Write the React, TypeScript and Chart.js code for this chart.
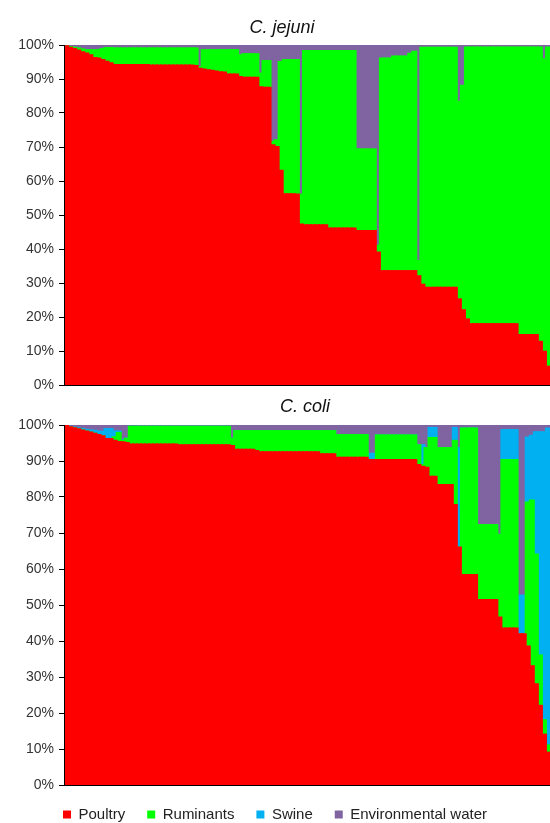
import React, { useEffect, useRef } from "react";
import { Chart, registerables } from "chart.js";

Chart.register(...registerables);

// ---------- C. jejuni (share of attribution per isolate, %) ----------
const jejuniPoultry = [
  99.6, 99.2, 98.8, 98.4, 97.9, 97.5, 97.0, 96.2, 96.0, 95.6,
  95.1, 94.6, 94.1, 94.1, 94.1, 94.1, 94.1, 94.1, 94.1, 94.1,
  94.1, 94.0, 94.0, 94.0, 94.0, 94.0, 94.0, 94.0, 94.0, 94.0,
  94.0, 94.0, 93.8, 93.0, 92.8, 92.6, 92.4, 92.2, 92.0, 91.9,
  91.3, 91.3, 91.3, 90.6, 90.4, 90.4, 90.4, 90.4, 87.6, 87.4,
  87.4, 70.5, 70.0, 63.0, 56.1, 56.1, 56.1, 56.0, 47.2, 47.0,
  47.0, 47.0, 47.0, 47.0, 47.0, 46.0, 46.0, 46.0, 46.0, 46.0,
  46.0, 46.0, 45.3, 45.3, 45.3, 45.3, 45.3, 39.0, 33.5, 33.5,
  33.5, 33.5, 33.5, 33.5, 33.5, 33.5, 33.5, 32.0, 29.5, 28.6,
  28.6, 28.6, 28.6, 28.6, 28.6, 28.6, 28.6, 25.2, 22.0, 19.3,
  17.9, 17.9, 17.9, 17.9, 17.9, 17.9, 17.9, 17.9, 17.9, 17.9,
  17.9, 17.9, 14.7, 14.7, 14.7, 14.7, 14.7, 12.7, 9.8, 5.4,
];
const jejuniRuminants = [
  0, 0.2, 0.4, 0.6, 0.8, 1.0, 1.5, 2.3, 2.5, 3.2,
  4.0, 4.5, 4.9, 4.9, 4.9, 4.9, 4.9, 4.9, 4.9, 4.9,
  4.9, 5.0, 5.0, 5.0, 5.0, 5.0, 5.0, 5.0, 5.0, 5.0,
  5.0, 5.0, 5.2, 0.5, 5.7, 5.9, 6.1, 6.3, 6.5, 6.6,
  7.2, 7.2, 7.2, 6.4, 6.9, 6.9, 6.9, 6.9, 4.0, 7.9,
  7.9, 1.0, 2.0, 32.0, 39.5, 39.5, 39.5, 39.6, 8.8, 51.2,
  51.2, 51.2, 51.2, 51.2, 51.2, 52.2, 52.2, 52.2, 52.2, 52.2,
  52.2, 52.2, 24.0, 24.0, 24.0, 24.0, 24.0, 2.0, 62.5, 62.5,
  62.5, 63.1, 63.1, 63.1, 63.1, 63.9, 64.5, 4.5, 69.7, 70.6,
  70.6, 70.6, 70.6, 70.6, 70.6, 70.6, 70.6, 58.1, 66.0, 80.0,
  81.4, 81.4, 81.4, 81.4, 81.4, 81.4, 81.4, 81.4, 81.4, 81.4,
  81.4, 81.4, 84.6, 84.6, 84.6, 84.6, 84.6, 86.6, 86.0, 93.9,
];
const jejuniWater = [
  0.4, 0.6, 0.8, 1.0, 1.3, 1.5, 1.5, 1.5, 1.5, 1.2,
  0.9, 0.9, 1.0, 1.0, 1.0, 1.0, 1.0, 1.0, 1.0, 1.0,
  1.0, 1.0, 1.0, 1.0, 1.0, 1.0, 1.0, 1.0, 1.0, 1.0,
  1.0, 1.0, 1.0, 6.5, 1.5, 1.5, 1.5, 1.5, 1.5, 1.5,
  1.5, 1.5, 1.5, 3.0, 2.7, 2.7, 2.7, 2.7, 8.4, 4.7,
  4.7, 28.5, 28.0, 5.0, 4.4, 4.4, 4.4, 4.4, 44.0, 1.8,
  1.8, 1.8, 1.8, 1.8, 1.8, 1.8, 1.8, 1.8, 1.8, 1.8,
  1.8, 1.8, 30.7, 30.7, 30.7, 30.7, 30.7, 59.0, 4.0, 4.0,
  4.0, 3.4, 3.4, 3.4, 3.4, 2.6, 2.0, 63.5, 0.8, 0.8,
  0.8, 0.8, 0.8, 0.8, 0.8, 0.8, 0.8, 16.7, 12.0, 0.7,
  0.7, 0.7, 0.7, 0.7, 0.7, 0.7, 0.7, 0.7, 0.7, 0.7,
  0.7, 0.7, 0.7, 0.7, 0.7, 0.7, 0.7, 0.7, 4.2, 0.7,
];

// ---------- C. coli ----------
const coliPoultry = [
  99.7, 99.4, 99.1, 98.8, 98.5, 98.2, 97.9, 97.6, 97.2, 96.9,
  96.1, 96.1, 95.6, 95.3, 95.2, 95.0, 94.6, 94.6, 94.6, 94.6,
  94.6, 94.6, 94.6, 94.6, 94.6, 94.6, 94.6, 94.6, 94.4, 94.4,
  94.4, 94.4, 94.4, 94.4, 94.4, 94.4, 94.4, 94.4, 94.4, 94.4,
  94.4, 94.2, 93.1, 93.1, 93.1, 93.1, 93.1, 92.8, 92.4, 92.4,
  92.4, 92.4, 92.4, 92.4, 92.4, 92.4, 92.4, 92.4, 92.4, 92.4,
  92.4, 92.4, 92.4, 91.9, 91.9, 91.9, 91.9, 90.9, 90.9, 90.9,
  90.9, 90.9, 90.9, 90.9, 90.9, 90.3, 90.3, 90.3, 90.3, 90.3,
  90.3, 90.3, 90.3, 90.3, 90.3, 90.3, 90.3, 88.9, 88.4, 88.1,
  85.6, 85.6, 83.3, 83.3, 83.3, 83.3, 77.8, 66.0, 58.3, 58.3,
  58.3, 58.3, 51.4, 51.4, 51.4, 51.4, 51.4, 46.5, 43.5, 43.5,
  43.5, 43.5, 41.9, 41.9, 38.5, 33.0, 28.0, 22.0, 14.0, 9.0,
];
const coliRuminants = [
  0, 0, 0, 0, 0, 0, 0, 0, 0, 0,
  0, 0, 1.0, 2.5, 0.4, 1.2, 4.9, 4.9, 4.9, 4.9,
  4.9, 4.9, 4.9, 4.9, 4.9, 4.9, 4.9, 4.9, 5.1, 5.1,
  5.1, 5.1, 5.1, 5.1, 5.1, 5.1, 5.1, 5.1, 5.1, 5.1,
  5.1, 2.0, 5.2, 5.2, 5.2, 5.2, 5.2, 5.5, 5.9, 5.9,
  5.9, 5.9, 5.9, 5.9, 5.9, 5.9, 5.9, 5.9, 5.9, 5.9,
  5.9, 5.9, 5.9, 6.4, 6.4, 6.4, 6.4, 6.3, 6.3, 6.3,
  6.3, 6.3, 6.3, 6.3, 6.3, 0, 0, 6.8, 6.8, 6.8,
  6.8, 6.8, 6.8, 6.8, 6.8, 6.8, 6.8, 5.5, 0.5, 5.5,
  10.8, 10.8, 10.3, 10.3, 10.3, 10.3, 17.8, 0, 40.7, 40.7,
  40.7, 40.7, 20.8, 20.8, 20.8, 20.8, 20.8, 23.0, 46.8, 46.8,
  46.8, 46.8, 0, 0, 40.0, 46.0, 36.0, 14.0, 4.0, 2.0,
];
const coliSwine = [
  0, 0.1, 0.2, 0.3, 0.4, 0.5, 0.6, 0.8, 1.0, 1.2,
  2.8, 2.8, 1.6, 0.4, 0.2, 0, 0, 0, 0, 0,
  0, 0, 0, 0, 0, 0, 0, 0, 0, 0,
  0, 0, 0, 0, 0, 0, 0, 0, 0, 0,
  0, 0, 0, 0, 0, 0, 0, 0, 0, 0,
  0, 0, 0, 0, 0, 0, 0, 0, 0, 0,
  0, 0, 0, 0, 0, 0, 0, 0, 0, 0,
  0, 0, 0, 0, 0, 1.7, 1.7, 0, 0, 0,
  0, 0, 0, 0, 0, 0, 0, 0, 5.5, 0,
  2.8, 2.8, 0, 0, 0, 0, 3.6, 27.6, 0, 0,
  0, 0, 0, 0, 0, 0, 0, 0, 8.3, 8.3,
  8.3, 8.3, 10.7, 10.7, 18.0, 18.0, 34.0, 62.0, 80.0, 88.0,
];
const coliWater = [
  0.3, 0.5, 0.7, 0.9, 1.1, 1.3, 1.5, 1.6, 1.8, 1.9,
  1.1, 1.1, 1.8, 1.8, 4.2, 3.8, 0.5, 0.5, 0.5, 0.5,
  0.5, 0.5, 0.5, 0.5, 0.5, 0.5, 0.5, 0.5, 0.5, 0.5,
  0.5, 0.5, 0.5, 0.5, 0.5, 0.5, 0.5, 0.5, 0.5, 0.5,
  0.5, 3.8, 1.7, 1.7, 1.7, 1.7, 1.7, 1.7, 1.7, 1.7,
  1.7, 1.7, 1.7, 1.7, 1.7, 1.7, 1.7, 1.7, 1.7, 1.7,
  1.7, 1.7, 1.7, 1.7, 1.7, 1.7, 1.7, 2.8, 2.8, 2.8,
  2.8, 2.8, 2.8, 2.8, 2.8, 8.0, 8.0, 2.9, 2.9, 2.9,
  2.9, 2.9, 2.9, 2.9, 2.9, 2.9, 2.9, 5.6, 5.6, 6.4,
  0.8, 0.8, 6.4, 6.4, 6.4, 6.4, 0.8, 6.4, 1.0, 1.0,
  1.0, 1.0, 27.8, 27.8, 27.8, 27.8, 27.8, 30.5, 1.4, 1.4,
  1.4, 1.4, 47.4, 47.4, 3.5, 3.0, 2.0, 2.0, 2.0, 1.0,
];

const sourceNames = ["Poultry", "Ruminants", "Swine", "Environmental water"];
const sourceColors = ["#FF0000", "#00FF00", "#00B0F0", "#8064A2"];
const yTicks = [0, 10, 20, 30, 40, 50, 60, 70, 80, 90, 100];

const FONT = '"Liberation Sans", Arial, Helvetica, sans-serif';

const panelTitle = {
  id: "panelTitle",
  afterDraw(chart: any, _args: any, opts: any) {
    const { ctx } = chart;
    ctx.save();
    ctx.font = `italic 18px ${FONT}`;
    ctx.fillStyle = "#111";
    ctx.textAlign = "center";
    ctx.textBaseline = "alphabetic";
    ctx.fillText(opts.text, opts.x, opts.y);
    ctx.restore();
  },
};

function ds(label: string, data: number[], color: string) {
  return {
    label,
    data,
    backgroundColor: color,
    borderWidth: 0,
    barPercentage: 1,
    categoryPercentage: 1,
    inflateAmount: 1,
  };
}

function buildOptions(title: { text: string; x: number; y: number }, padding: any, legend: boolean) {
  return {
    animation: false,
    responsive: true,
    maintainAspectRatio: false,
    events: [],
    layout: { padding },
    plugins: {
      legend: {
        display: legend,
        position: "bottom",
        labels: {
          boxWidth: 8,
          boxHeight: 8,
          padding: 22,
          color: "#222",
          font: { family: FONT, size: 15 },
        },
      },
      tooltip: { enabled: false },
      title: { display: false },
      panelTitle: title,
    },
    scales: {
      x: {
        stacked: true,
        grid: { display: false, drawTicks: false },
        ticks: { display: false },
        border: { display: true, color: "#000", width: 1, z: 1 },
        afterFit: (s: any) => {
          s.height = 0;
        },
      },
      y: {
        stacked: true,
        min: 0,
        max: 100,
        afterBuildTicks: (s: any) => {
          s.ticks = yTicks.map((v) => ({ value: v }));
        },
        ticks: {
          callback: (v: any) => `${v}%`,
          color: "#333",
          padding: 5,
          font: { family: FONT, size: 14 },
        },
        grid: {
          drawOnChartArea: false,
          drawTicks: true,
          tickLength: 5,
          color: "#000",
          tickColor: "#000",
        },
        border: { display: true, color: "#000", width: 1, z: 1 },
        afterFit: (s: any) => {
          s.width = 64;
        },
      },
    },
  };
}

export default function App() {
  const topRef = useRef<HTMLCanvasElement>(null);
  const botRef = useRef<HTMLCanvasElement>(null);

  useEffect(() => {
    const labelsJ = jejuniPoultry.map((_, i) => String(i + 1));
    const labelsC = coliPoultry.map((_, i) => String(i + 1));

    const top = new Chart(topRef.current as HTMLCanvasElement, {
      type: "bar",
      data: {
        labels: labelsJ,
        datasets: [
          ds(sourceNames[0], jejuniPoultry, sourceColors[0]),
          ds(sourceNames[1], jejuniRuminants, sourceColors[1]),
          ds(sourceNames[3], jejuniWater, sourceColors[3]),
        ],
      },
      options: buildOptions(
        { text: "C. jejuni", x: 282, y: 33 },
        { top: 45, bottom: 15, left: 0, right: 0 },
        false
      ) as any,
      plugins: [panelTitle],
    });

    const bot = new Chart(botRef.current as HTMLCanvasElement, {
      type: "bar",
      data: {
        labels: labelsC,
        datasets: [
          ds(sourceNames[0], coliPoultry, sourceColors[0]),
          ds(sourceNames[1], coliRuminants, sourceColors[1]),
          ds(sourceNames[2], coliSwine, sourceColors[2]),
          ds(sourceNames[3], coliWater, sourceColors[3]),
        ],
      },
      options: buildOptions(
        { text: "C. coli", x: 305, y: 20 },
        { top: 33, bottom: 0, left: 0, right: 0 },
        true
      ) as any,
      plugins: [panelTitle],
    });

    return () => {
      top.destroy();
      bot.destroy();
    };
  }, []);

  return (
    <div
      style={{
        position: "absolute",
        left: 0,
        top: 0,
        width: 550,
        height: 823,
        overflow: "hidden",
        background: "#fff",
      }}
    >
      <div style={{ position: "absolute", left: 0, top: 0, width: 550, height: 400 }}>
        <canvas ref={topRef} />
      </div>
      <div style={{ position: "absolute", left: 0, top: 392, width: 550, height: 440 }}>
        <canvas ref={botRef} />
      </div>
    </div>
  );
}
